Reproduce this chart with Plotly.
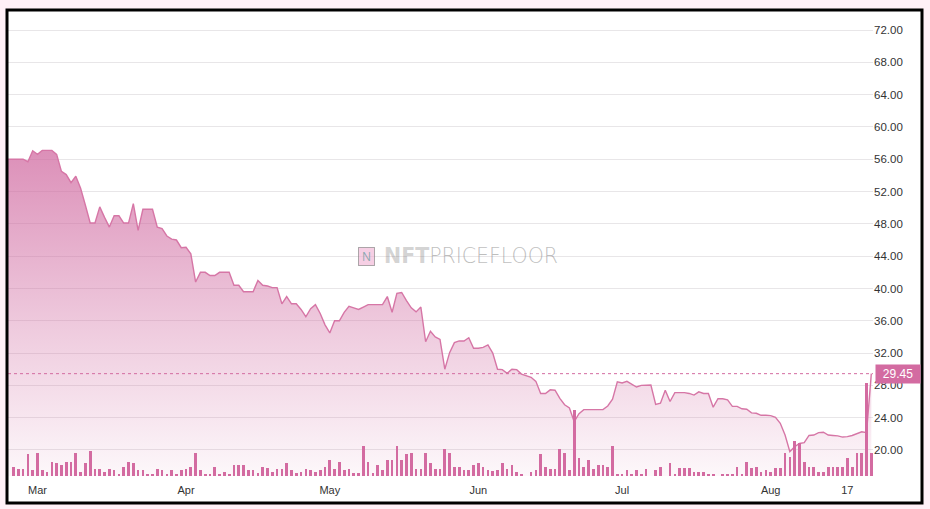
import pandas as pd
import plotly.graph_objects as go

# ---------------- data ----------------
price_start = "2023-02-22"
floor_price = [
    56.0, 56.0, 56.0, 56.0, 56.0, 55.7, 57.05, 56.6, 57.1, 57.1,
    57.1, 56.6, 54.5, 54.1, 53.1, 53.9, 52.4, 50.3, 48.1, 48.1,
    50.1, 48.8, 47.6, 49.0, 49.0, 48.1, 48.1, 50.5, 47.2, 49.8,
    49.8, 49.8, 47.6, 47.4, 46.5, 46.1, 46.0, 45.05, 45.1, 44.3,
    40.8, 42.0, 42.0, 41.6, 41.6, 42.0, 42.0, 42.0, 40.4, 40.4,
    39.6, 39.6, 39.6, 41.0, 40.4, 40.3, 40.1, 40.1, 38.1, 39.0,
    38.1, 38.1, 37.4, 36.5, 37.5, 38.0, 36.9, 35.5, 34.5, 36.0,
    36.0, 37.05, 37.8, 37.6, 37.4, 37.7, 38.0, 38.0, 38.0, 38.0,
    39.0, 37.05, 39.4, 39.5, 38.5, 37.6, 37.1, 37.7, 33.4, 34.7,
    34.0, 33.7, 30.0, 32.05, 33.3, 33.5, 33.5, 33.9, 32.6, 32.6,
    32.7, 33.0, 32.0, 30.0, 29.95, 29.5, 30.0, 29.95, 29.4, 29.15,
    29.0, 28.5, 27.0, 27.0, 27.45, 27.4, 26.4, 25.6, 25.2, 23.5,
    24.5, 25.0, 25.0, 25.0, 25.0, 25.0, 25.45, 26.3, 28.45, 28.3,
    28.5, 28.2, 27.8, 28.0, 28.05, 28.05, 25.65, 25.8, 27.4, 26.0,
    27.1, 27.1, 27.1, 27.0, 26.8, 27.2, 27.0, 27.0, 25.3, 26.35,
    26.35, 26.2, 25.4, 25.4, 25.1, 25.05, 24.6, 24.55, 24.3, 24.3,
    24.25, 24.05, 23.3, 21.85, 19.8, 20.4, 20.8, 20.9, 21.8, 21.85,
    22.15, 22.2, 21.85, 21.8, 21.75, 21.6, 21.65, 21.8, 22.05, 22.25,
    22.15, 29.45,
]

volume_start = "2023-02-24"
volume = [
    9, 7, 7, 22, 6, 23, 6, 4, 14, 13, 11, 14, 14, 23, 4, 13, 25, 7, 7, 4,
    7, 6, 2, 9, 14, 13, 6, 6, 2, 2, 7, 6, 2, 6, 2, 6, 7, 9, 23, 6,
    2, 2, 9, 2, 4, 2, 11,
    11, 11, 6, 6, 3, 9, 8, 4, 7, 7, 13, 6, 3, 4, 7, 6, 4, 6, 9, 16,
    7, 14, 6, 7, 3, 3, 30, 14, 3, 11, 6, 16, 16, 30, 16, 22, 23, 7, 7, 23,
    13, 7, 7, 27, 23, 9, 9, 6, 6,
    11, 13, 9, 6, 5, 6, 13, 7, 11, 4, 2, 0, 4, 6, 22, 9, 7, 7, 27, 23,
    6, 66, 18, 9, 16, 7, 11, 11, 9, 30, 2, 2, 6, 2, 6, 2, 7, 0, 6, 9,
    0, 13, 2, 8, 8, 8, 4, 4, 4, 2, 2, 0, 2, 2, 2, 9, 2, 14, 8, 9,
    4, 6, 4, 8, 8, 23, 19, 35, 33, 14, 9, 9, 4, 4, 9, 9, 9, 9, 18, 9,
    23, 23, 93, 23,
]

last_price = 29.45
tick_dates = ["2023-03-01", "2023-04-01", "2023-05-01", "2023-06-01",
              "2023-07-01", "2023-08-01", "2023-08-17"]
tick_labels = ["Mar", "Apr", "May", "Jun", "Jul", "Aug", "17"]
y_ticks = [20, 24, 28, 32, 36, 40, 44, 48, 52, 56, 60, 64, 68, 72]

price_dates = pd.date_range(price_start, periods=len(floor_price), freq="D")
volume_dates = pd.date_range(volume_start, periods=len(volume), freq="D")

PINK = "#d36ba1"
LINE = "rgb(214,118,166)"
W, H = 930, 509
ML, MR, MT, MB = 8, 57, 10, 33
PW, PH = W - ML - MR, H - MT - MB


def px_x(x):
    return (x - ML) / PW


def px_y(y):
    return (H - MB - y) / PH


fig = go.Figure()

fig.add_trace(go.Scatter(
    x=price_dates, y=floor_price, mode="lines",
    line=dict(color=LINE, width=1.4),
    fill="tozeroy",
    fillgradient=dict(
        type="vertical",
        colorscale=[[0, "rgba(208,105,160,0.05)"],
                    [0.45, "rgba(208,105,160,0.35)"],
                    [1, "rgba(208,105,160,0.75)"]],
        start=16.78, stop=57.5,
    ),
    hoverinfo="skip", showlegend=False,
))

fig.add_trace(go.Bar(
    x=volume_dates, y=volume, yaxis="y2",
    marker=dict(color=PINK, line=dict(width=0)),
    width=0.56 * 86400000,
    hoverinfo="skip", showlegend=False,
))

fig.update_layout(
    width=W, height=H,
    margin=dict(l=ML, r=MR, t=MT, b=MB),
    paper_bgcolor="#fff0f7",
    plot_bgcolor="#ffffff",
    bargap=0,
    xaxis=dict(
        type="date",
        range=["2023-02-22 20:24", "2023-08-22 08:24"],
        tickmode="array", tickvals=tick_dates, ticktext=tick_labels,
        showgrid=False, zeroline=False, showline=False,
        ticks="outside", ticklen=4, tickcolor="rgba(0,0,0,0)",
        tickfont=dict(family="Liberation Sans, Arial", size=11, color="#333333"),
    ),
    yaxis=dict(
        side="right",
        range=[16.78, 74.48],
        tickmode="array", tickvals=y_ticks,
        tickformat=".2f",
        showgrid=True, gridcolor="#e8e6e8", gridwidth=1,
        zeroline=False, showline=False, ticks="",
        tickfont=dict(family="Liberation Sans, Arial", size=11.5, color="#333333"),
    ),
    yaxis2=dict(
        overlaying="y", range=[0, PH], visible=False, fixedrange=True,
    ),
    shapes=[
        # white card behind the chart
        dict(type="rect", xref="paper", yref="paper",
             x0=px_x(7), x1=px_x(922), y0=px_y(503), y1=px_y(10),
             fillcolor="#ffffff", line=dict(width=0), layer="below"),
        # last price dotted line
        dict(type="line", xref="paper", yref="y",
             x0=0, x1=1, y0=last_price, y1=last_price,
             line=dict(color=PINK, width=1, dash="dot"), layer="above"),
        # black border
        dict(type="rect", xref="paper", yref="paper",
             x0=px_x(7), x1=px_x(922), y0=px_y(503), y1=px_y(10),
             line=dict(color="#000000", width=3), fillcolor="rgba(0,0,0,0)",
             layer="above"),
    ],
    annotations=[
        dict(xref="paper", yref="y", x=1, y=last_price, xanchor="left",
             xshift=2, yanchor="middle", showarrow=False,
             text="29.45", bgcolor=PINK, borderpad=2, width=40, height=14,
             font=dict(family="Liberation Sans, Arial", size=12, color="#ffffff")),
        dict(xref="paper", yref="paper", x=px_x(382), y=px_y(256),
             xanchor="left", yanchor="middle", showarrow=False,
             text="<span style='color:rgba(105,105,105,0.6)'><b>NFT</b></span>PRICEFLOOR",
             font=dict(family="DejaVu Sans", size=20.5, weight=300,
                       color="rgba(125,125,125,0.5)")),
        dict(xref="paper", yref="paper", x=px_x(366.5), y=px_y(256),
             xanchor="center", yanchor="middle", showarrow=False,
             text="N", bgcolor="rgba(240,175,210,0.6)",
             bordercolor="rgba(120,120,120,0.6)", borderwidth=1, borderpad=1,
             width=13, height=15,
             font=dict(family="Open Sans", size=12, color="rgba(90,150,150,0.7)")),
    ],
)

fig.write_html("out.html")
